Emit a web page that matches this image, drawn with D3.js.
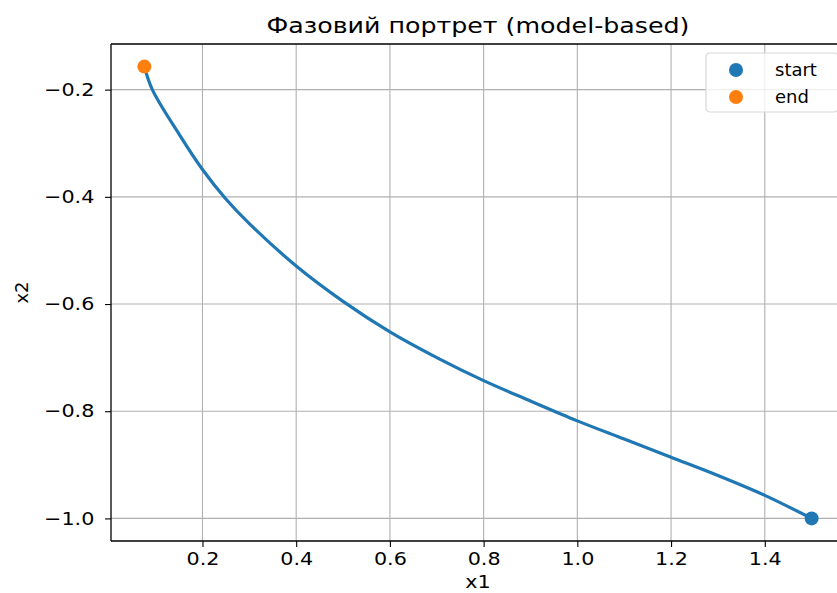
<!DOCTYPE html>
<meta charset="utf-8">
<style>
body { margin: 0; background: #fff; }
text { font-family: "DejaVu Sans", sans-serif; fill: #000; }
.grid line { stroke: #b0b0b0; stroke-width: 1.1; }
.axis path { display: none; }
.axis line { stroke: #000; stroke-width: 1.1; }
.wide { transform-box: fill-box; transform-origin: center; transform: scaleX(1.15); }
</style>
<svg width="837" height="593"></svg>
<script src="https://cdn.jsdelivr.net/npm/d3@7"></script>
<script>

// trajectory (x1, x2)
var x1Values = [0.076, 0.093, 0.15, 0.20, 0.25, 0.30, 0.40, 0.50, 0.60, 0.70, 0.80, 0.90, 1.00, 1.10, 1.20, 1.30, 1.40, 1.50];
var x2Values = [-0.157, -0.200, -0.283, -0.349, -0.404, -0.450, -0.529, -0.595, -0.652, -0.700, -0.743, -0.781, -0.818, -0.852, -0.886, -0.920, -0.957, -1.000];
var startPoint = [1.5, -1.0];
var endPoint = [0.076, -0.157];
var xTicks = [0.2, 0.4, 0.6, 0.8, 1.0, 1.2, 1.4];
var yTicks = [-0.2, -0.4, -0.6, -0.8, -1.0];
var legendLabels = ["start", "end"];
var legendColors = ["#1f77b4", "#ff7f0e"];

var svg = d3.select("svg"),
    m = {left: 111, right: 845, top: 44, bottom: 541};

// matplotlib style 5% margins
function padded(vals) {
  var e = d3.extent(vals), p = (e[1] - e[0]) * 0.05;
  return [e[0] - p, e[1] + p];
}

var x = d3.scaleLinear().domain(padded(x1Values)).range([m.left, m.right]);
var y = d3.scaleLinear().domain(padded(x2Values)).range([m.bottom, m.top]);

var g = svg.append("g");

// grid
g.append("g").attr("class", "grid")
  .selectAll("line").data(xTicks).enter().append("line")
    .attr("x1", function(d) { return x(d); }).attr("x2", function(d) { return x(d); })
    .attr("y1", m.top).attr("y2", m.bottom);
g.append("g").attr("class", "grid")
  .selectAll("line").data(yTicks).enter().append("line")
    .attr("y1", function(d) { return y(d); }).attr("y2", function(d) { return y(d); })
    .attr("x1", m.left).attr("x2", m.right);

// axes
var fmt = d3.format(".1f");
g.append("g").attr("class", "axis")
    .attr("transform", "translate(0," + m.bottom + ")")
    .call(d3.axisBottom(x).tickValues(xTicks).tickFormat(fmt).tickSize(6).tickPadding(5));
g.append("g").attr("class", "axis")
    .attr("transform", "translate(" + m.left + ",0)")
    .call(d3.axisLeft(y).tickValues(yTicks).tickFormat(fmt).tickSize(6).tickPadding(14));
g.selectAll(".axis text").attr("class", "wide").style("font-size", "18px").attr("fill", "#000");

// line
var pts = x1Values.map(function(d, i) { return [d, x2Values[i]]; });
g.append("path")
    .datum(pts)
    .attr("fill", "none")
    .attr("stroke", "#1f77b4")
    .attr("stroke-width", 3.2)
    .attr("stroke-linecap", "round")
    .attr("d", d3.line()
      .x(function(d) { return x(d[0]); })
      .y(function(d) { return y(d[1]); })
      .curve(d3.curveCatmullRom.alpha(0.5)));

// markers
g.append("circle").attr("cx", x(startPoint[0])).attr("cy", y(startPoint[1])).attr("r", 7).attr("fill", legendColors[0]);
g.append("circle").attr("cx", x(endPoint[0])).attr("cy", y(endPoint[1])).attr("r", 7).attr("fill", legendColors[1]);

// spines
[[m.left, m.top, m.left, m.bottom], [m.left, m.bottom, m.right, m.bottom],
 [m.left, m.top, m.right, m.top], [m.right, m.top, m.right, m.bottom]].forEach(function(s) {
  g.append("line").attr("x1", s[0]).attr("y1", s[1]).attr("x2", s[2]).attr("y2", s[3])
    .attr("stroke", "#000").attr("stroke-width", 1.3);
});

// title and labels
svg.append("text").attr("class", "wide").attr("x", 478).attr("y", 33).attr("text-anchor", "middle")
    .style("font-size", "22px").text("Фазовий портрет (model-based)");
svg.append("text").attr("class", "wide").attr("x", 478).attr("y", 588).attr("text-anchor", "middle")
    .style("font-size", "18px").text("x1");
svg.append("text").attr("transform", "translate(28," + ((m.top + m.bottom) / 2) + ") rotate(-90)")
    .attr("text-anchor", "middle").style("font-size", "18px").text("x2");

// legend
var lg = svg.append("g").attr("transform", "translate(706,53)");
lg.append("rect").attr("width", 132).attr("height", 59).attr("rx", 4)
    .attr("fill", "#fff").attr("fill-opacity", 0.8).attr("stroke", "#d8d8d8").attr("stroke-width", 1.2);
var item = lg.selectAll(".item").data(legendLabels).enter().append("g")
    .attr("transform", function(d, i) { return "translate(0," + (17 + i * 27) + ")"; });
item.append("circle").attr("cx", 30).attr("r", 7).attr("fill", function(d, i) { return legendColors[i]; });
item.append("text").attr("x", 69).attr("dy", "0.35em").style("font-size", "18px").text(function(d) { return d; });

</script>
